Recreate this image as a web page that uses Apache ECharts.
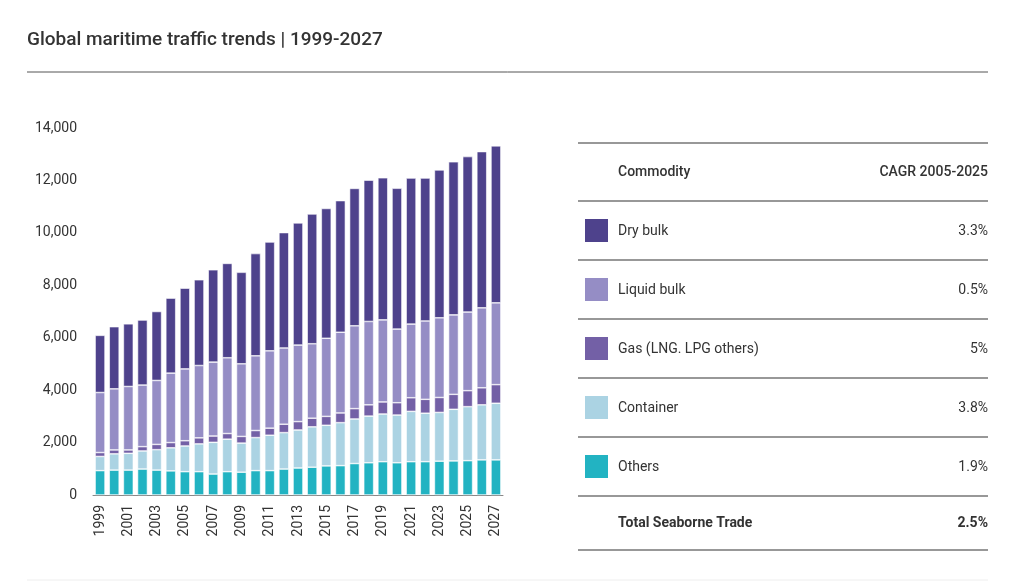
<!DOCTYPE html>
<html>
<head>
<meta charset="utf-8">
<script src="https://cdn.jsdelivr.net/npm/echarts@6/dist/echarts.min.js"></script>
<style>html,body{margin:0;background:#fff}#main{width:1023px;height:583px}</style>
</head>
<body>
<div id="main"></div>
<script>
var years = [];
for (var y = 1999; y <= 2027; y++) years.push(String(y));
var others = [930,950,950,990,950,920,890,890,800,890,870,930,930,990,1030,1060,1110,1120,1200,1230,1270,1230,1270,1270,1290,1300,1310,1340,1340];
var container = [540,620,640,690,780,880,980,1060,1210,1240,1110,1260,1350,1390,1450,1540,1550,1640,1700,1780,1820,1820,1920,1850,1860,1970,2060,2100,2160];
var gas = [150,150,130,165,200,200,200,230,240,215,255,270,270,320,320,330,340,370,395,430,460,470,520,530,570,570,610,650,710];
var liquid = [2290,2330,2420,2350,2440,2650,2740,2760,2820,2890,2770,2850,2950,2910,2920,2840,2980,3080,3160,3180,3130,2810,2810,2990,3040,3030,3000,3050,3120];
var dry = [2180,2370,2390,2480,2630,2860,3080,3270,3520,3600,3490,3900,4150,4400,4660,4950,4950,5020,5240,5390,5420,5370,5570,5450,5640,5840,5930,5960,5990];

var commodities = ['Dry bulk','Liquid bulk','Gas (LNG. LPG others)','Container','Others'];
var cagr = ['3.3%','0.5%','5%','3.8%','1.9%'];
var colors = ['#4e428c','#958dc5','#7360a6','#abd3e3','#22b3c2'];

var font = 'Roboto, sans-serif';
var chart = echarts.init(document.getElementById('main'));

var g = [
  {type:'text', left:27, top:31, style:{text:'Global maritime traffic trends | 1999-2027', font:'500 19px ' + font, fill:'#333'}},
  {type:'line', shape:{x1:27,y1:72,x2:988,y2:72}, style:{stroke:'#555',lineWidth:1}},
  {type:'line', shape:{x1:27,y1:580,x2:988,y2:580}, style:{stroke:'#eee',lineWidth:1}}
];
var lines = [143,201,260,319,378,437,496,550];
lines.forEach(function (ly) {
  g.push({type:'line', shape:{x1:578,y1:ly,x2:988,y2:ly}, style:{stroke:'#333',lineWidth:1.2}});
});
g.push({type:'text', x:618, y:172, style:{text:'Commodity', font:'500 14px ' + font, fill:'#333', verticalAlign:'middle'}});
g.push({type:'text', x:988, y:172, style:{text:'CAGR 2005-2025', font:'500 14px ' + font, fill:'#333', align:'right', verticalAlign:'middle'}});
commodities.forEach(function (c, i) {
  var cy = 231 + i * 59;
  g.push({type:'rect', shape:{x:585,y:cy-12,width:23,height:23}, style:{fill:colors[i]}});
  g.push({type:'text', x:618, y:cy, style:{text:c, font:'14px ' + font, fill:'#333', verticalAlign:'middle'}});
  g.push({type:'text', x:988, y:cy, style:{text:cagr[i], font:'14px ' + font, fill:'#333', align:'right', verticalAlign:'middle'}});
});
g.push({type:'text', x:618, y:523, style:{text:'Total Seaborne Trade', font:'bold 14px ' + font, fill:'#333', verticalAlign:'middle'}});
g.push({type:'text', x:988, y:523, style:{text:'2.5%', font:'bold 14px ' + font, fill:'#333', align:'right', verticalAlign:'middle'}});

function s(name, data, color) {
  return {name:name, type:'bar', stack:'t', data:data, barCategoryGap:'30%',
    itemStyle:{color:color, borderColor:'#fff', borderWidth:0.6}};
}

chart.setOption({
  animation:false,
  textStyle:{fontFamily:font},
  grid:{left:93, right:520, top:128, bottom:88},
  xAxis:{type:'category', data:years,
    axisLine:{lineStyle:{color:'#888'}}, axisTick:{show:false},
    axisLabel:{rotate:90, interval:1, color:'#333', fontSize:14, margin:10}},
  yAxis:{type:'value', min:0, max:14000, interval:2000,
    splitLine:{show:false}, axisLine:{show:false}, axisTick:{show:false},
    axisLabel:{color:'#333', fontSize:14, margin:16,
      formatter:function (v) { return v.toLocaleString('en-US'); }}},
  graphic:g,
  series:[
    s('Others', others, colors[4]),
    s('Container', container, colors[3]),
    s('Gas', gas, colors[2]),
    s('Liquid bulk', liquid, colors[1]),
    s('Dry bulk', dry, colors[0])
  ]
});
</script>
</body>
</html>
